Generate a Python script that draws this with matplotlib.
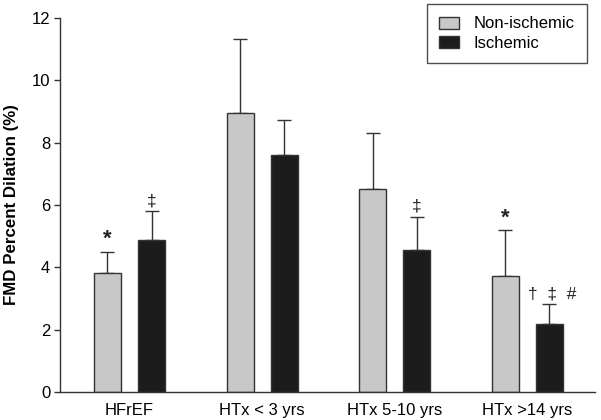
import matplotlib
matplotlib.use("Agg")
import matplotlib.pyplot as plt
import numpy as np

plt.rcParams['font.family'] = ['Liberation Sans', 'DejaVu Sans']

categories = ["HFrEF", "HTx < 3 yrs", "HTx 5-10 yrs", "HTx >14 yrs"]
non_ischemic = [3.83, 8.94, 6.50, 3.72]
non_ischemic_err = [0.67, 2.39, 1.80, 1.48]
ischemic = [4.88, 7.59, 4.56, 2.18]
ischemic_err = [0.92, 1.14, 1.06, 0.63]
non_isch_marks = ["*", "", "", "*"]
isch_marks = ["‡", "", "‡", "†  ‡  #"]
yticks = [0, 2, 4, 6, 8, 10, 12]

fig = plt.figure(figsize=(6.01, 4.2), dpi=100)
ax = fig.add_axes([60/601, 1-392/420, (595-60)/601, (392-18)/420])

x = np.arange(len(categories))
off = 0.166
w = 0.203
gray = "#c8c8c8"
dark = "#1c1c1c"
edge = "#333333"

ax.bar(x - off, non_ischemic, w, color=gray, edgecolor=edge, linewidth=1.0, label="Non-ischemic", zorder=2)
ax.bar(x + off, ischemic, w, color=dark, edgecolor=edge, linewidth=1.0, label="Ischemic", zorder=2)
ax.errorbar(x - off, non_ischemic, yerr=[np.zeros(4), non_ischemic_err], fmt='none',
            ecolor=edge, elinewidth=1.0, capsize=5, capthick=1.0, zorder=1)
ax.errorbar(x + off, ischemic, yerr=[np.zeros(4), ischemic_err], fmt='none',
            ecolor=edge, elinewidth=1.0, capsize=5, capthick=1.0, zorder=1)

for i in range(len(categories)):
    if non_isch_marks[i]:
        ax.text(x[i] - off, non_ischemic[i] + non_ischemic_err[i] + 0.05, non_isch_marks[i],
                ha='center', va='bottom', fontsize=16, fontweight='bold', color='#222222')
    if isch_marks[i]:
        ax.text(x[i] + off + (0.02 if len(isch_marks[i]) > 1 else 0), ischemic[i] + ischemic_err[i] + 0.1, isch_marks[i],
                ha='center', va='bottom', fontsize=12.5, color='#222222')

ax.set_xlim(-0.524, 3.51)
ax.set_ylim(0, 12)
ax.set_yticks(yticks)
ax.set_xticks(x)
ax.set_xticklabels(categories, fontsize=12)
ax.tick_params(axis='x', length=0, pad=8)
ax.tick_params(axis='y', labelsize=12, direction='out', length=4, width=1, color=edge, pad=3)
for s in ['top', 'right']:
    ax.spines[s].set_visible(False)
for s in ['left', 'bottom']:
    ax.spines[s].set_color(edge)
    ax.spines[s].set_linewidth(1.0)

ax.set_ylabel("FMD Percent Dilation (%)", fontsize=12.2, fontweight='bold', labelpad=9)

leg = ax.legend(loc='upper right', bbox_to_anchor=(587/601, 1-4/420), bbox_transform=fig.transFigure,
                borderaxespad=0, fontsize=12, frameon=True, fancybox=False, edgecolor='#222222',
                handlelength=1.2, handleheight=0.7, handletextpad=0.85, borderpad=0.75, labelspacing=0.25)
leg.get_frame().set_linewidth(1.0)

fig.savefig("out.png", dpi=100)
